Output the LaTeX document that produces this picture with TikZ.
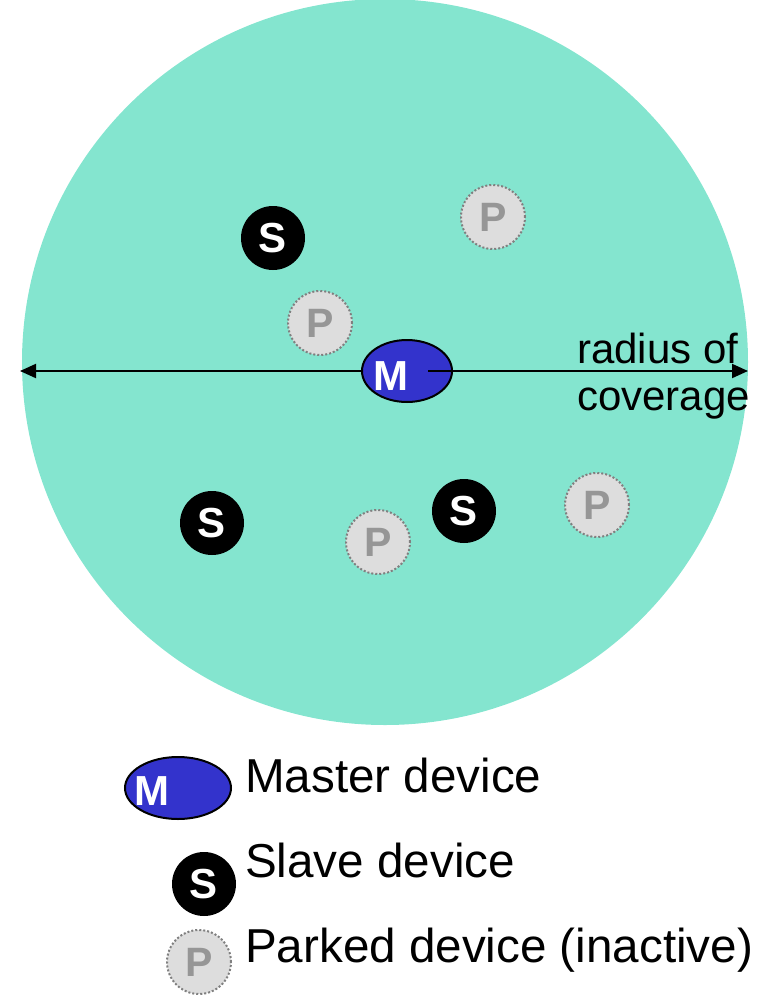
\documentclass[tikz,border=0pt]{standalone}
\usepackage{fontspec}
\setmainfont{Liberation Sans}
\usetikzlibrary{arrows.meta,shapes.geometric}
\definecolor{coveragefill}{RGB}{132,229,207}
\definecolor{masterfill}{RGB}{51,51,204}
\definecolor{parkedfill}{RGB}{221,221,221}
\definecolor{parkedtext}{RGB}{150,150,150}
\definecolor{parkedline}{RGB}{128,128,128}
\tikzset{
	master/.style={ellipse, draw=black, line width=2pt, fill=masterfill, minimum width=90pt, minimum height=62pt, inner sep=0pt},
	slave/.style={circle, fill=black, text=white, minimum size=64pt, inner sep=0pt, font=\fontsize{42}{42}\selectfont\bfseries},
	parked/.style={circle, draw=parkedline, line width=2pt, dash pattern=on 2pt off 2pt, fill=parkedfill, text=parkedtext, minimum size=64pt, inner sep=0pt, font=\fontsize{41}{41}\selectfont\bfseries},
	letter/.style={text=white, inner sep=0pt, font=\fontsize{42}{42}\selectfont\bfseries},
	legend/.style={anchor=base west, inner sep=0pt, font=\fontsize{47.6}{47.6}\selectfont},
	radius/.style={anchor=base west, inner sep=0pt, font=\fontsize{42}{42}\selectfont},
	span/.style={line width=2pt, -{Triangle[length=16pt, width=14pt]}}
}

\begin{document}
\begin{tikzpicture}[x=1pt, y=-1pt]
		%%%%% START %%%%%
		\useasboundingbox (0, 0) rectangle (763, 996);
		
		% area covered by the master
		\fill[coveragefill] (385, 362) circle (363);
		
		% master device
		\node[master] (mdev) at (407, 371) {};
		\node[letter] (mlabel) at (391, 376) {M};
		
		% radius of coverage
		\coordinate (leftend) at (20, 371);
		\coordinate (rightstart) at (428, 371);
		\coordinate (rightend) at (748, 371);
		\draw[span] (mdev.west) -- (leftend);
		\draw[span] (rightstart) -- (rightend);
		\node[radius] (radiusone) at (577, 363) {radius of};
		\node[radius] (radiustwo) at (577, 410) {coverage};
		
		% slave devices
		\node[slave] (sone) at (273, 238) {S};
		\node[slave] (stwo) at (212, 523) {S};
		\node[slave] (sthree) at (464, 511) {S};
		
		% parked devices
		\node[parked] (pone) at (493, 217) {P};
		\node[parked] (ptwo) at (320, 323) {P};
		\node[parked] (pthree) at (378, 542) {P};
		\node[parked] (pfour) at (597, 505) {P};
		
		% legend
		\node[master, minimum width=106pt] (mkey) at (178, 788) {};
		\node[letter] (mkeylabel) at (152, 791) {M};
		\node[slave] (skey) at (204, 884) {S};
		\node[parked] (pkey) at (199, 962) {P};
		\node[legend] (mtext) at (245, 792) {Master device};
		\node[legend] (stext) at (245, 877) {Slave device};
		\node[legend] (ptext) at (245, 962) {Parked device (inactive)};
		%%%%% END %%%%%
	\end{tikzpicture}
\end{document}
